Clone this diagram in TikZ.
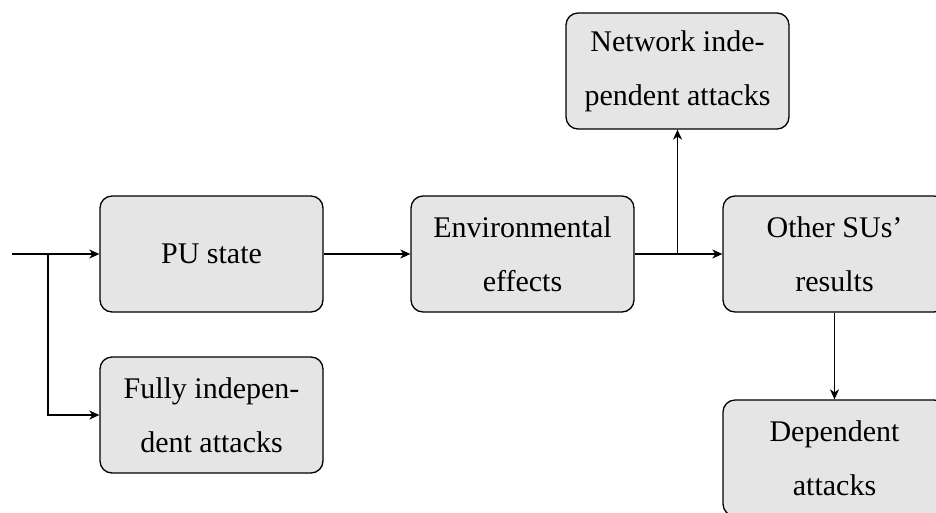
\documentclass[tikz,border=0pt]{standalone}
\usepackage{fontspec}
\setmainfont{Liberation Serif}
\usetikzlibrary{arrows.meta}
\begin{document}
\begin{tikzpicture}[x=1pt,y=-1pt,
  blockbox/.style={draw=black, fill=gray!20, rounded corners=12pt, line width=1.3pt,
    minimum width=223pt, minimum height=116pt, align=center, inner sep=0pt,
    font=\fontsize{30pt}{54pt}\selectfont},
  link/.style={line width=1.3pt},
  tip/.style={-{Stealth[length=10pt,width=9pt,inset=3pt]}}]
\useasboundingbox (0,0) rectangle (936,512);
% blocks
\node[blockbox] (pu)    at (211.5,254) {PU state};
\node[blockbox] (fully) at (211.5,415) {Fully indepen-\\dent attacks};
\node[blockbox] (env)   at (522.5,254) {Environmental\\effects};
\node[blockbox] (net)   at (677.5,71)  {Network inde-\\pendent attacks};
\node[blockbox] (other) at (834.5,254) {Other SUs'\\results};
\node[blockbox] (dep)   at (834.5,458) {Dependent\\attacks};
% input and branch points
\coordinate (in)  at (12,254);
\coordinate (br1) at (48,254);
% connectors
\draw[link,tip] (in) -- (pu.west);
\draw[link,tip] (in) -- (br1) |- (fully.west);
\draw[link,tip] (pu.east) -- (env.west);
\draw[link,tip] (env.east) -- (other.west);
\draw[link,tip] (env.east) -| (net.south);
\draw[link,tip] (other.south) -- (dep.north);
\end{tikzpicture}
\end{document}
